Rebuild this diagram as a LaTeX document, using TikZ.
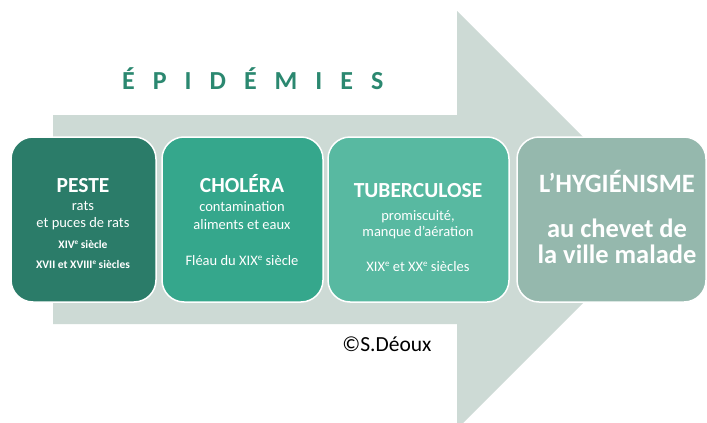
\documentclass[tikz,border=0pt]{standalone}
\usepackage{fontspec}
\setmainfont{Carlito}
\definecolor{shaftc}{HTML}{CDDAD5}
\definecolor{cA}{HTML}{2B7C69}
\definecolor{cB}{HTML}{35A78C}
\definecolor{cC}{HTML}{58B9A1}
\definecolor{cD}{HTML}{95B8AD}
\definecolor{titc}{HTML}{2B8870}
\newcommand\myexp{\raisebox{0.32em}{\scalebox{0.62}{e}}}
\begin{document}
\begin{tikzpicture}[x=1pt,y=-1pt,
  box/.style={draw=white, line width=1.5pt, rounded corners=22pt, minimum height=165pt, inner sep=0},
  ttl/.style={text=white, font=\fontsize{21.5}{24}\selectfont\bfseries, anchor=base, inner sep=0},
  txt/.style={text=white, font=\fontsize{14.5}{16}\selectfont, anchor=base, inner sep=0},
  sm/.style={text=white, font=\fontsize{11.5}{13}\selectfont\bfseries, anchor=base, inner sep=0},
  big/.style={text=white, font=\fontsize{26.5}{30}\selectfont\bfseries, anchor=base, inner sep=0}]
\useasboundingbox (0,0) rectangle (707,423);
\clip (0,0) rectangle (707,423);
\fill[white] (0,0) rectangle (707,423);
% big arrow
\fill[shaftc] (53,115) -- (457,115) -- (457,11) -- (666,220) -- (457,429) -- (457,324) -- (53,324) -- cycle;
% title
\node[anchor=base west, inner sep=0, text=titc, font=\fontsize{26}{30}\selectfont\bfseries] (title) at (122,89)
  {É\hspace{18pt}P\hspace{18pt}I\hspace{18pt}D\hspace{18pt}É\hspace{18pt}M\hspace{18pt}I\hspace{18pt}E\hspace{18pt}S};
% boxes
\node[box, fill=cA, minimum width=145pt] (b1) at (83.5,219.5) {};
\node[box, fill=cB, minimum width=161pt] (b2) at (242.5,219.5) {};
\node[box, fill=cC, minimum width=181pt] (b3) at (418.5,219.5) {};
\node[box, fill=cD, minimum width=189pt] (b4) at (611.5,219.5) {};
% box 1
\node[ttl] (p1) at (83,192) {PESTE};
\node[txt] (p2) at (83,210) {rats};
\node[txt] (p3) at (83,227) {et puces de rats};
\node[sm] (p4) at (83,248) {XIV\myexp{} siècle};
\node[sm] (p5) at (83,268) {XVII et XVIII\myexp{} siècles};
% box 2
\node[ttl] (c1) at (242,192) {CHOLÉRA};
\node[txt] (c2) at (242,211) {contamination};
\node[txt] (c3) at (242,229) {aliments et eaux};
\node[txt] (c4) at (242,265) {Fléau du XIX\myexp{} siècle};
% box 3
\node[ttl] (u1) at (418,197) {TUBERCULOSE};
\node[txt] (u2) at (418,220) {promiscuité,};
\node[txt] (u3) at (418,236) {manque d’aération};
\node[txt] (u4) at (418,271) {XIX\myexp{} et XX\myexp{} siècles};
% box 4
\node[big] (h1) at (617,192) {L’HYGIÉNISME};
\node[big] (h2) at (617,237) {au chevet de};
\node[big] (h3) at (617,263) {la ville malade};
% copyright
\node[anchor=base, inner sep=0, font=\fontsize{21.5}{24}\selectfont] (copy) at (387,351) {©S.Déoux};
\end{tikzpicture}
\end{document}
